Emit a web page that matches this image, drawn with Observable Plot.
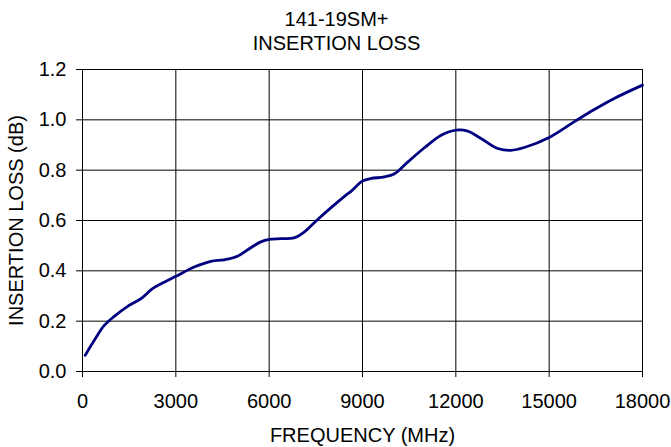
<!DOCTYPE html>
<html>
<head>
<meta charset="utf-8">
<script src="https://cdn.jsdelivr.net/npm/d3@7"></script>
<script src="https://cdn.jsdelivr.net/npm/@observablehq/plot@0.6"></script>
<style>
  html, body { margin: 0; padding: 0; background: #fff; }
</style>
</head>
<body>
<div id="chart"></div>
<script>
const titleLines = ["141-19SM+", "INSERTION LOSS"];
const xTitle = "FREQUENCY (MHz)";
const yTitle = "INSERTION LOSS (dB)";
const xTicks = [0, 3000, 6000, 9000, 12000, 15000, 18000];
const yTicks = [0, 0.2, 0.4, 0.6, 0.8, 1.0, 1.2];
const freq = [86, 375, 700, 1020, 1450, 1875, 2250, 2625, 3000, 3590, 4125, 4550, 4980, 5410, 5730, 6000, 6375, 6800, 7125, 7550, 7980, 8410, 8640, 9000, 9280, 9700, 10030, 10460, 11000, 11530, 12020, 12380, 12810, 13350, 13770, 14200, 15000, 15800, 16450, 17090, 18000];
const loss = [0.064, 0.123, 0.183, 0.219, 0.259, 0.289, 0.329, 0.355, 0.378, 0.415, 0.438, 0.444, 0.458, 0.492, 0.515, 0.525, 0.528, 0.531, 0.554, 0.603, 0.650, 0.695, 0.717, 0.757, 0.767, 0.773, 0.786, 0.833, 0.890, 0.939, 0.959, 0.955, 0.926, 0.886, 0.879, 0.890, 0.930, 0.992, 1.041, 1.085, 1.138];

const data = freq.map((f, i) => ({f, v: loss[i]}));
const font = "'Liberation Sans', Arial, Helvetica, sans-serif";

const chart = Plot.plot({
  width: 671,
  height: 447,
  marginLeft: 82,
  marginRight: 29,
  marginTop: 69,
  marginBottom: 76,
  style: {fontFamily: font, fontSize: "20px", color: "#000", background: "#fff"},
  x: {domain: [0, 18000]},
  y: {domain: [0, 1.2]},
  marks: [
    Plot.gridX(xTicks, {stroke: "#000", strokeOpacity: 1, strokeWidth: 1}),
    Plot.gridY(yTicks, {stroke: "#000", strokeOpacity: 1, strokeWidth: 1}),
    Plot.frame({stroke: "#000", strokeWidth: 1}),
    Plot.axisX({ticks: xTicks, tickSize: 6, tickPadding: 16, tickFormat: d => String(d), label: null, fontSize: 20}),
    Plot.axisY({ticks: yTicks, tickSize: 6, tickPadding: 10, tickFormat: d => d.toFixed(1), label: null, fontSize: 20}),
    Plot.line(data, {x: "f", y: "v", stroke: "#000080", strokeWidth: 2.8, curve: "catmull-rom"}),
    Plot.text([titleLines[0]], {text: d => d, frameAnchor: "top", lineAnchor: "bottom", dx: -26, dy: -43.5, fontSize: 20}),
    Plot.text([titleLines[1]], {text: d => d, frameAnchor: "top", lineAnchor: "bottom", dx: -26, dy: -19.3, fontSize: 20}),
    Plot.text([xTitle], {text: d => d, frameAnchor: "bottom", lineAnchor: "bottom", dy: 70, fontSize: 20}),
    Plot.text([yTitle], {text: d => d, frameAnchor: "left", textAnchor: "middle", lineAnchor: "bottom", rotate: -90, dx: -60, fontSize: 20})
  ]
});
document.getElementById("chart").appendChild(chart);
</script>
</body>
</html>
